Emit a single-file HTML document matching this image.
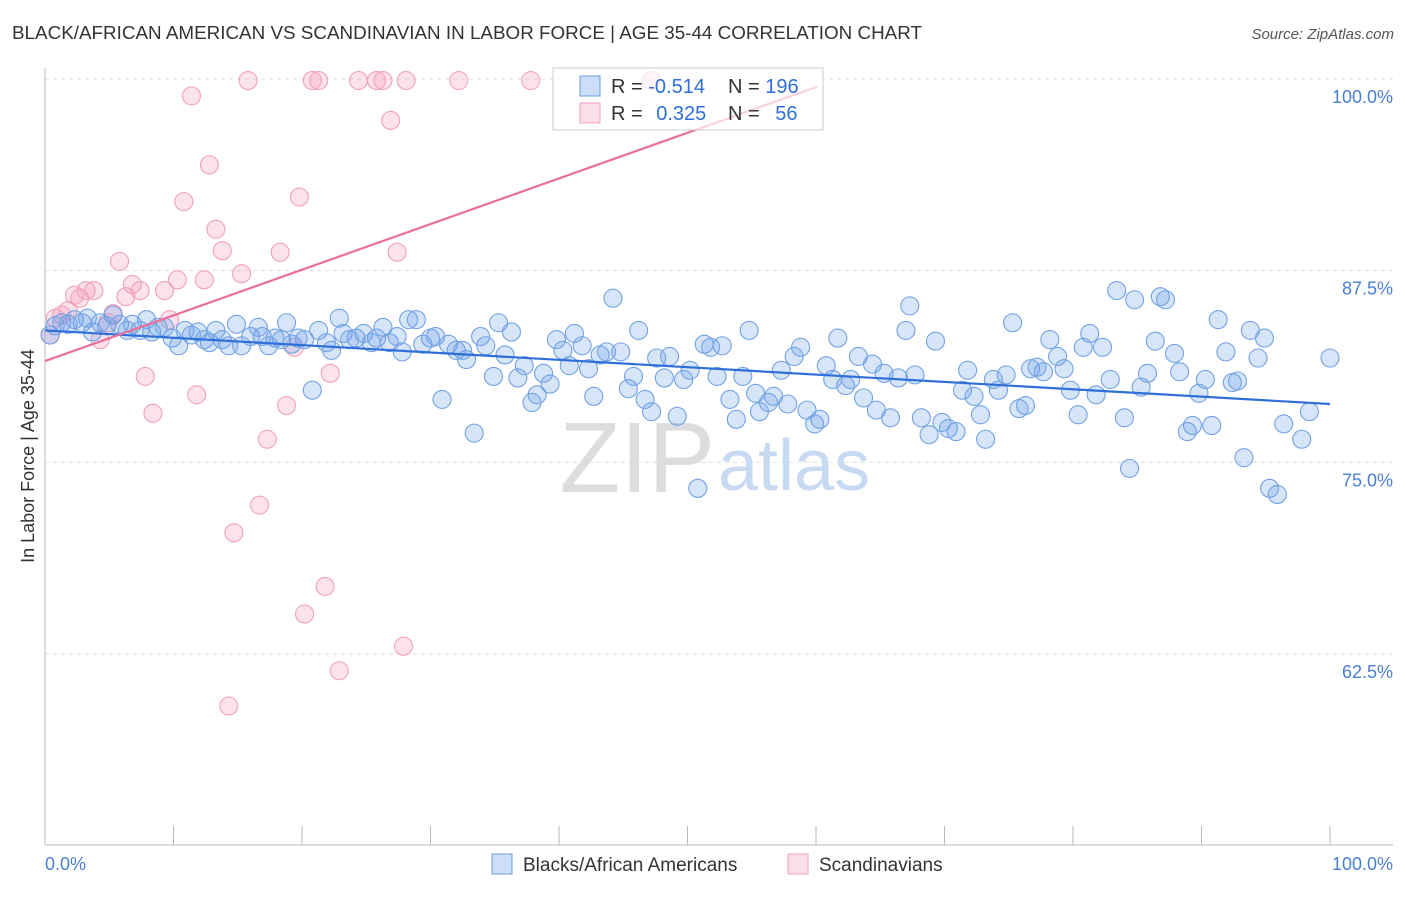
<!DOCTYPE html>
<html><head><meta charset="utf-8"><style>
body{margin:0;background:#fff;font-family:"Liberation Sans",sans-serif;}
svg text{font-family:"Liberation Sans",sans-serif;}
</style></head><body>
<svg width="1406" height="892" xmlns="http://www.w3.org/2000/svg">
<text x="12" y="39" font-size="18" fill="#333" textLength="910" lengthAdjust="spacingAndGlyphs">BLACK/AFRICAN AMERICAN VS SCANDINAVIAN IN LABOR FORCE | AGE 35-44 CORRELATION CHART</text>
<text x="1394" y="39" font-size="15" fill="#555" font-style="italic" text-anchor="end">Source: ZipAtlas.com</text>
<g id="grid"></g>
<text x="715" y="492" font-size="100" fill="#ddd" text-anchor="end" font-family="Liberation Serif">ZIP</text>
<text x="718" y="490" font-size="72" fill="#c8daf2">atlas</text>
<g id="axes"></g>
<g id="pink"></g>
<g id="blue"></g>
<g id="trends"></g>
<g>
<rect x="553" y="68" width="270" height="62" fill="rgba(255,255,255,0.7)" stroke="#ccc"/>
<rect x="580" y="76" width="20" height="20" fill="rgba(110,160,235,0.35)" stroke="#6a9de0"/>
<rect x="580" y="103" width="20" height="20" fill="rgba(245,160,190,0.35)" stroke="#f0a0be"/>
<text x="611" y="93" font-size="20" fill="#333">R = <tspan fill="#2f6fd8">-0.514</tspan></text>
<text x="728" y="93" font-size="20" fill="#333">N = <tspan fill="#2f6fd8">196</tspan></text>
<text x="611" y="120" font-size="20" fill="#333">R = <tspan fill="#2f6fd8" dx="8">0.325</tspan></text>
<text x="728" y="120" font-size="20" fill="#333">N = <tspan fill="#2f6fd8" dx="10">56</tspan></text>
</g>
<g>
<rect x="492" y="854" width="20" height="20" fill="rgba(110,160,235,0.35)" stroke="#6a9de0"/>
<text x="523" y="871" font-size="19" fill="#333">Blacks/African Americans</text>
<rect x="788" y="854" width="20" height="20" fill="rgba(245,160,190,0.35)" stroke="#f0a0be"/>
<text x="819" y="871" font-size="19" fill="#333">Scandinavians</text>
</g>
<text x="45" y="870" font-size="18" fill="#4a7fd4">0.0%</text>
<text x="1393" y="870" font-size="18" fill="#4a7fd4" text-anchor="end">100.0%</text>
<text transform="translate(34,456) rotate(-90)" font-size="18" fill="#333" text-anchor="middle">In Labor Force | Age 35-44</text>
</svg>
<script>
const yTicks=[100,87.5,75,62.5];
const yTickLabels=["100.0%","87.5%","75.0%","62.5%"];
const blueX=[0.4,0.8,1.3,1.8,2.3,2.9,3.3,3.7,4.3,4.8,5.3,5.8,6.4,6.8,7.4,7.9,8.3,8.8,9.3,9.9,10.4,10.9,11.4,11.9,12.4,12.8,13.3,13.8,14.3,14.9,15.3,16.0,16.6,16.9,17.4,17.9,18.4,18.8,19.2,19.7,20.2,20.8,21.3,21.9,22.3,22.9,23.2,23.7,24.2,24.8,25.4,25.8,26.3,26.8,27.4,27.8,28.3,28.9,29.4,30.0,30.4,30.9,31.4,32.0,32.5,32.8,33.4,33.9,34.3,34.9,35.3,35.8,36.3,36.8,37.3,37.9,38.3,38.8,39.3,39.8,40.3,40.8,41.2,41.8,42.3,42.7,43.2,43.7,44.2,44.8,45.4,45.8,46.2,46.7,47.2,47.6,48.2,48.6,49.2,49.7,50.2,50.8,51.3,51.8,52.3,52.7,53.3,53.8,54.3,54.8,55.3,55.6,56.3,56.7,57.3,57.8,58.3,58.8,59.3,59.9,60.3,60.8,61.3,61.7,62.3,62.7,63.3,63.7,64.4,64.7,65.3,65.8,66.4,67.0,67.3,67.7,68.2,68.8,69.3,69.8,70.3,70.9,71.4,71.8,72.3,72.8,73.2,73.8,74.2,74.8,75.3,75.8,76.3,76.7,77.2,77.7,78.2,78.8,79.3,79.8,80.4,80.8,81.3,81.8,82.3,82.9,83.4,84.0,84.4,84.8,85.3,85.8,86.4,86.8,87.2,87.9,88.3,88.9,89.3,89.8,90.3,90.8,91.3,91.9,92.4,92.8,93.3,93.8,94.4,94.9,95.3,95.9,96.4,97.8,98.4,100.0];
const blueY=[83.3,83.9,84.1,84.0,84.3,84.1,84.4,83.5,84.1,83.9,84.6,84.0,83.6,84.0,83.6,84.3,83.5,83.8,83.8,83.1,82.6,83.6,83.3,83.5,83.0,82.8,83.6,83.0,82.6,84.0,82.6,83.2,83.8,83.2,82.6,83.1,83.0,84.1,82.7,83.1,83.0,79.7,83.6,82.8,82.3,84.4,83.4,83.0,83.1,83.4,82.8,83.1,83.8,82.8,83.2,82.2,84.3,84.3,82.7,83.1,83.2,79.1,82.7,82.3,82.3,81.7,76.9,83.2,82.6,80.6,84.1,82.0,83.5,80.5,81.3,78.9,79.4,80.8,80.1,83.0,82.3,81.3,83.4,82.6,81.1,79.3,82.0,82.2,85.7,82.2,79.8,80.6,83.6,79.1,78.3,81.8,80.5,81.9,78.0,80.4,81.0,73.3,82.7,82.5,80.6,82.6,79.1,77.8,80.6,83.6,79.5,78.3,78.9,79.3,81.0,78.8,81.9,82.5,78.4,77.5,77.8,81.3,80.4,83.1,80.0,80.4,81.9,79.2,81.4,78.4,80.8,77.9,80.5,83.6,85.2,80.7,77.9,76.8,82.9,77.6,77.2,77.0,79.7,81.0,79.3,78.1,76.5,80.4,79.7,80.7,84.1,78.5,78.7,81.1,81.2,80.9,83.0,81.9,81.1,79.7,78.1,82.5,83.4,79.4,82.5,80.4,86.2,77.9,74.6,85.6,79.9,80.8,82.9,85.8,85.6,82.1,80.9,77.0,77.4,79.5,80.4,77.4,84.3,82.2,80.2,80.3,75.3,83.6,81.8,83.1,73.3,72.9,77.5,76.5,78.3,81.8];
const pinkX=[0.4,0.8,1.3,1.8,2.3,2.7,3.2,3.8,4.3,4.9,5.3,5.8,6.3,6.8,7.4,7.8,8.4,9.3,9.7,10.3,10.8,11.4,11.8,12.4,12.8,13.3,13.8,14.3,14.7,15.3,15.8,16.7,17.3,18.3,18.8,19.4,19.8,20.2,20.8,21.3,21.8,22.2,22.9,24.4,25.8,26.3,26.9,27.4,27.9,28.1,32.2,37.8,47.2];
const pinkY=[83.3,84.4,84.6,84.9,85.9,85.7,86.2,86.2,83.0,84.1,84.7,88.1,85.8,86.6,86.2,80.6,78.2,86.2,84.3,86.9,92.0,98.9,79.4,86.9,94.4,90.2,88.8,59.1,70.4,87.3,99.9,72.2,76.5,88.7,78.7,82.5,92.3,65.1,99.9,99.9,66.9,80.8,61.4,99.9,99.9,99.9,97.3,88.7,63.0,99.9,99.9,99.9,99.9];
const blueTrend=[[0,83.6],[100,78.8]];
const pinkTrend=[[0,81.6],[60.1,99.5]];
const NS="http://www.w3.org/2000/svg";
const xs=v=>45+v*12.85, ys=v=>79+(100-v)*15.33;
function mk(p,t,a){const e=document.createElementNS(NS,t);for(const k in a)e.setAttribute(k,a[k]);p.appendChild(e);return e;}
const grid=document.getElementById('grid');
yTicks.forEach((t,i)=>{const l=mk(grid,'line',{x1:45,x2:1393,y1:ys(t),y2:ys(t),stroke:'#ddd','stroke-dasharray':'4,4'});


const tx=mk(grid,'text',{x:1393,y:ys(t)+24,'font-size':18,fill:'#4a7fd4','text-anchor':'end'});tx.textContent=yTickLabels[i];

});
const ax=document.getElementById('axes');
mk(ax,'line',{x1:45,x2:45,y1:68,y2:845,stroke:'#bbb'});
mk(ax,'line',{x1:45,x2:1393,y1:845,y2:845,stroke:'#bbb'});
for(let i=0;i<=10;i++){const t=mk(ax,'line',{x1:xs(i*10),x2:xs(i*10),y1:826,y2:845,stroke:'#bbb'});

}
const pg=document.getElementById('pink');
pinkX.forEach((x,i)=>{const c=mk(pg,'circle',{cx:xs(x),cy:ys(pinkY[i]),r:9,fill:'rgba(245,160,190,0.3)',stroke:'#f0a0be','stroke-width':1.1});

});
const bg=document.getElementById('blue');
blueX.forEach((x,i)=>{const c=mk(bg,'circle',{cx:xs(x),cy:ys(blueY[i]),r:9,fill:'rgba(110,160,235,0.28)',stroke:'#72a2e2','stroke-width':1.1});

});
const tg=document.getElementById('trends');
const bl=mk(tg,'line',{x1:xs(blueTrend[0][0]),y1:ys(blueTrend[0][1]),x2:xs(blueTrend[1][0]),y2:ys(blueTrend[1][1]),stroke:'#2f6fd8','stroke-width':2.2});


const pl=mk(tg,'line',{x1:xs(pinkTrend[0][0]),y1:ys(pinkTrend[0][1]),x2:xs(pinkTrend[1][0]),y2:ys(pinkTrend[1][1]),stroke:'#e8709a','stroke-width':2.2});


</script>
</body></html>
